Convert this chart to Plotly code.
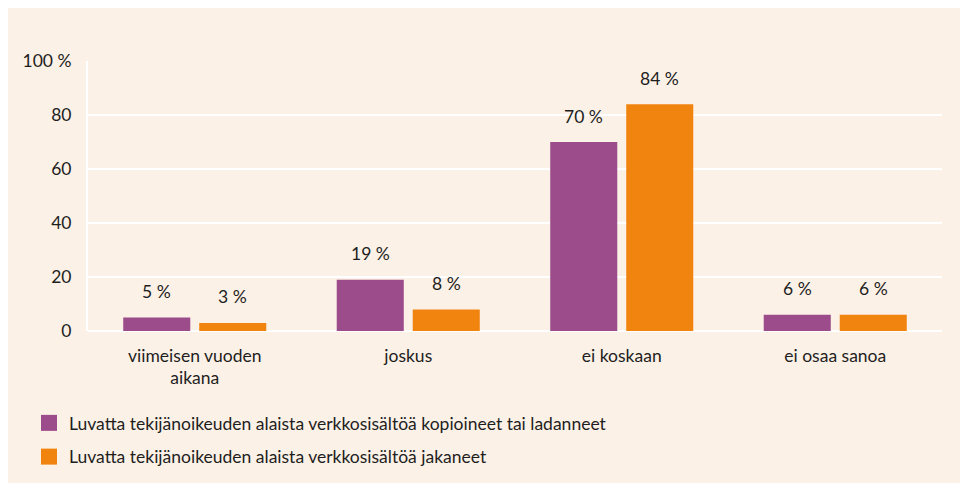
import plotly.graph_objects as go

categories = ["viimeisen vuoden<br>aikana", "joskus", "ei koskaan", "ei osaa sanoa"]
series_names = [
    "Luvatta tekijänoikeuden alaista verkkosisältöä kopioineet tai ladanneet",
    "Luvatta tekijänoikeuden alaista verkkosisältöä jakaneet",
]
copied = [5, 19, 70, 6]
shared = [3, 8, 84, 6]
y_tickvals = [0, 20, 40, 60, 80, 100]
y_ticktext = ["0", "20", "40", "60", "80", "100 %"]

PURPLE = "#9c4b8b"
ORANGE = "#f0840f"
BEIGE = "#fcf1e6"
TEXT = "#1e1e1e"
FONT = "Lato"
FS = 17.5

fig = go.Figure()
for name, vals, col in [(series_names[0], copied, PURPLE), (series_names[1], shared, ORANGE)]:
    fig.add_trace(go.Bar(
        x=categories, y=vals, name=name, marker_color=col, marker_line_width=0,
        showlegend=False,
    ))
# legend entries with larger square swatches
for name, col, grp in [(series_names[0], PURPLE, "a"), (series_names[1], ORANGE, "b")]:
    fig.add_trace(go.Scatter(
        x=[None], y=[None], mode="markers", name=name, legendgroup=grp,
        marker=dict(symbol="square", size=16, color=col), showlegend=True,
    ))

# value labels
for vals, shift in [(copied, -38), (shared, 38)]:
    for c, v in zip(categories, vals):
        fig.add_annotation(
            x=c, y=v, text=f"{v} %", showarrow=False, xshift=shift, yshift=26,
            yanchor="middle", font=dict(size=FS, color=TEXT, family=FONT),
        )

W, H = 960, 475
L, R, T, B = 80, 26, 53, 152
pw, ph = W - L - R, H - T - B

fig.update_layout(
    width=W, height=H,
    margin=dict(l=L, r=R, t=T, b=B, autoexpand=False),
    paper_bgcolor=BEIGE, plot_bgcolor=BEIGE,
    barmode="group", bargap=0.288, bargroupgap=0.118,
    font=dict(family=FONT, size=FS, color=TEXT),
    showlegend=True,
    legend=dict(
        x=(21 - L) / pw, y=-(397 - T - ph) / ph,
        xanchor="left", yanchor="top", orientation="v",
        tracegroupgap=8,
        font=dict(size=FS, color=TEXT, family=FONT),
        bgcolor="rgba(0,0,0,0)", itemclick=False, itemdoubleclick=False,
    ),
    xaxis=dict(
        showgrid=False, showline=False, zeroline=False, ticks="", tickangle=0,
        ticklabelstandoff=12, tickfont=dict(size=FS, color=TEXT),
    ),
    yaxis=dict(
        range=[0, 100], tickvals=y_tickvals, ticktext=y_ticktext,
        showgrid=True, gridcolor="white", gridwidth=2,
        zeroline=True, zerolinecolor="white", zerolinewidth=2,
        showline=True, linecolor="white", linewidth=2,
        ticks="", ticklabelstandoff=11, tickfont=dict(size=FS, color=TEXT),
    ),
)

fig.write_html("out.html")
